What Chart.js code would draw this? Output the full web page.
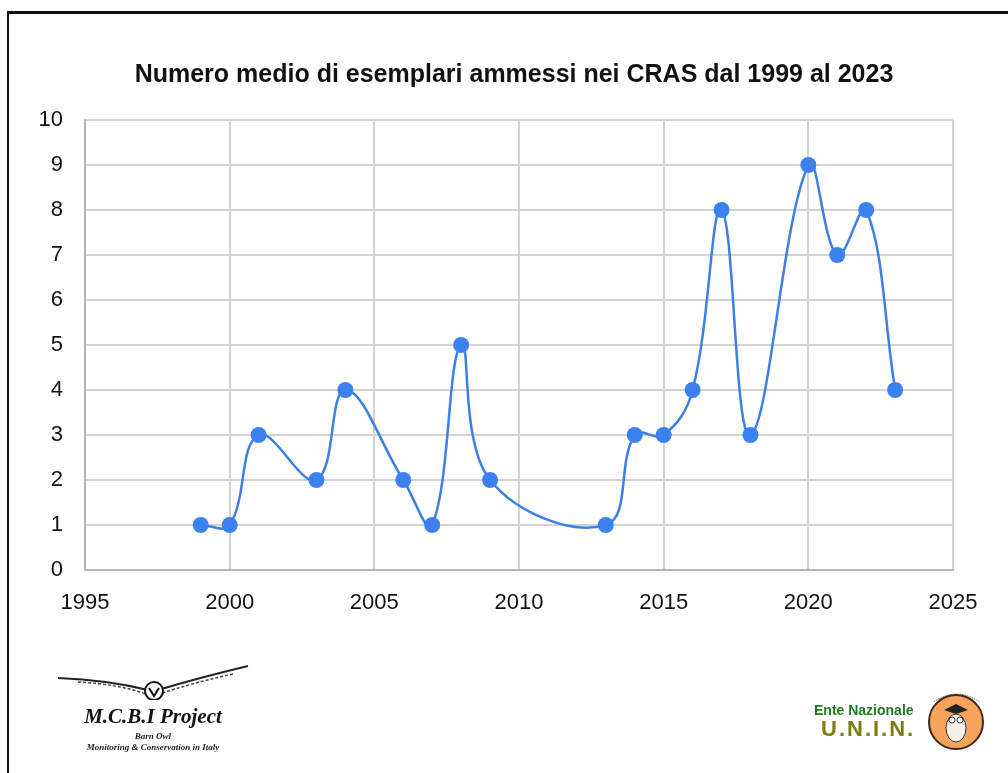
<!DOCTYPE html>
<html>
<head>
<meta charset="utf-8">
<script src="https://cdn.jsdelivr.net/npm/chart.js@4"></script>
<style>
  body { margin: 0; background: #fff; }
  #wrap { position: relative; width: 1008px; height: 773px; overflow: hidden; }
  #frame { position: absolute; left: 7px; top: 11px; width: 1010px; height: 800px;
           border-left: 2px solid #111; border-top: 3px solid #111; box-sizing: border-box; }
  canvas { position: absolute; left: 0; top: 0; }
  .logo { position: absolute; }
</style>
</head>
<body>
<div id="wrap">
  <div id="frame"></div>
  <canvas id="chart" width="1008" height="773"></canvas>

  <!-- M.C.B.I logo -->
  <div class="logo" style="left:48px; top:660px; width:210px; height:100px;">
    <svg width="210" height="40" style="position:absolute;left:0;top:0">
      <path d="M10 18 Q60 20 100 30" stroke="#222" stroke-width="2" fill="none"/>
      <path d="M30 22 Q70 24 98 34" stroke="#444" stroke-width="1.5" fill="none" stroke-dasharray="3 2"/>
      <path d="M200 6 Q150 18 110 30" stroke="#222" stroke-width="2" fill="none"/>
      <path d="M185 14 Q140 24 112 34" stroke="#444" stroke-width="1.5" fill="none" stroke-dasharray="3 2"/>
      <circle cx="106" cy="31" r="9" fill="#fff" stroke="#111" stroke-width="2"/>
      <path d="M101 28 L106 36 L111 28" stroke="#111" stroke-width="2" fill="none"/>
    </svg>
    <div style="position:absolute;left:0;top:44px;width:210px;text-align:center;font:bold italic 21px 'Liberation Serif','DejaVu Serif',serif;color:#111;">M.C.B.I Project</div>
    <div style="position:absolute;left:0;top:71px;width:210px;text-align:center;font:bold italic 9px 'Liberation Serif',serif;color:#222;">Barn Owl</div>
    <div style="position:absolute;left:0;top:82px;width:210px;text-align:center;font:bold italic 9px 'Liberation Serif',serif;color:#222;">Monitoring &amp; Conservation in Italy</div>
  </div>

  <!-- U.N.I.N. logo -->
  <div class="logo" style="left:808px; top:692px; width:200px; height:70px;">
    <div style="position:absolute;left:6px;top:10px;font:bold 14px 'Liberation Sans',Arial,sans-serif;color:#1f7a1f;">Ente Nazionale</div>
    <div style="position:absolute;left:13px;top:24px;font:bold 22px 'Liberation Sans',Arial,sans-serif;color:#7d7d10;letter-spacing:2px;">U.N.I.N.</div>
    <svg width="70" height="70" style="position:absolute;left:118px;top:-4px">
      <circle cx="30" cy="34" r="27" fill="#f6a35c" stroke="#3a2a1a" stroke-width="2"/>
      <ellipse cx="30" cy="40" rx="10" ry="14" fill="#f4efe6" stroke="#333" stroke-width="1"/>
      <circle cx="26" cy="32" r="3" fill="#fff" stroke="#333" stroke-width="1"/>
      <circle cx="34" cy="32" r="3" fill="#fff" stroke="#333" stroke-width="1"/>
      <path d="M18 22 L30 16 L42 22 L30 26 Z" fill="#222"/>
      <path d="M8 14 Q30 -2 54 14" stroke="#555" stroke-width="0.8" fill="none" stroke-dasharray="1.5 1"/>
    </svg>
  </div>
</div>

<script>
// anni e valori
const years = [1999, 2000, 2001, 2003, 2004, 2006, 2007, 2008, 2009, 2013, 2014, 2015, 2016, 2017, 2018, 2020, 2021, 2022, 2023];
const values = [1, 1, 3, 2, 4, 2, 1, 5, 2, 1, 3, 3, 4, 8, 3, 9, 7, 8, 4];
const xTicks = [1995, 2000, 2005, 2010, 2015, 2020, 2025];
const yTicks = [0, 1, 2, 3, 4, 5, 6, 7, 8, 9, 10];
const titleText = 'Numero medio di esemplari ammessi nei CRAS dal 1999 al 2023';

const blue = '#3d7fe6';
const gridColor = '#d3d3d3';
const tickFont = { family: "'Liberation Sans', Arial, sans-serif", size: 22 };

const points = years.map((y, i) => ({ x: y, y: values[i] }));

const ctx = document.getElementById('chart').getContext('2d');
const chart = new Chart(ctx, {
    type: 'line',
    data: {
        datasets: [{
            data: points,
            borderColor: blue,
            backgroundColor: blue,
            borderWidth: 2.5,
            pointRadius: 8,
            pointBorderWidth: 0,
            pointBackgroundColor: '#3b82f0',
            tension: 0.4,
            fill: false
        }]
    },
    options: {
        responsive: false,
        animation: false,
        layout: { padding: { left: 20, right: 0, top: 0, bottom: 143 } },
        plugins: {
            legend: { display: false },
            tooltip: { enabled: false },
            title: {
                display: true,
                text: titleText,
                color: '#111',
                font: { family: "'Liberation Sans', Arial, sans-serif", size: 25, weight: 'bold' },
                padding: { top: 60, bottom: 30 }
            }
        },
        scales: {
            x: {
                type: 'linear',
                min: 1995,
                max: 2025,
                afterBuildTicks: (axis) => { axis.ticks = xTicks.map(v => ({ value: v })); },
                afterFit: (axis) => { axis.height = 60; },
                ticks: {
                    color: '#111',
                    font: tickFont,
                    padding: 20,
                    maxRotation: 0,
                    callback: (v) => String(v)
                },
                grid: { color: gridColor, lineWidth: 2, drawTicks: false },
                border: { color: '#b5b5b5', width: 2 }
            },
            y: {
                min: 0,
                max: 10,
                afterBuildTicks: (axis) => { axis.ticks = yTicks.map(v => ({ value: v })); },
                afterFit: (axis) => { axis.width = 65; },
                ticks: {
                    color: '#111',
                    font: tickFont,
                    padding: 22
                },
                grid: { color: gridColor, lineWidth: 2, drawTicks: false },
                border: { color: '#b5b5b5', width: 2 }
            },
            // asse vuoto a destra: solo per lo spazio
            y2: {
                position: 'right',
                display: true,
                min: 0,
                max: 10,
                afterFit: (axis) => { axis.width = 55; },
                ticks: { display: false },
                grid: { drawOnChartArea: false, drawTicks: false },
                border: { display: false }
            }
        }
    }
});
</script>
</body>
</html>
